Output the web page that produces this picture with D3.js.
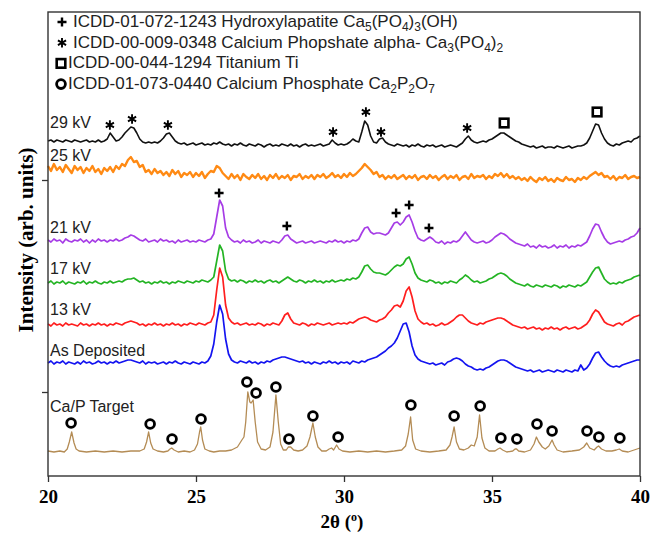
<!DOCTYPE html>
<html>
<head>
<meta charset="utf-8">
<script src="https://cdn.jsdelivr.net/npm/d3@7"></script>
<style>
  body { margin: 0; background: #fff; }
  svg { display: block; }
</style>
</head>
<body>
<svg class="svg" width="650" height="535"></svg>
<script>
// scan grid of the sample patterns: 20..40 deg, 0.1 deg step
const scanStart = 20;
const scanStep = 0.1;

// intensity above each pattern's own base
const kv29 = [
  4, 5, 3, 5, 4, 3, 5, 4, 3, 5,
  4, 3, 4, 5, 3, 4, 3, 5, 3, 4,
  6, 12, 8, 4, 5, 8, 12, 15, 18, 17,
  12, 6, 3, 2, 3, 2, 3, 2, 4, 7,
  11, 12, 8, 4, 2, 1, 2, 0, 1, 2,
  0, 1, 2, 0, 1, 0, 2, 1, 3, 1,
  0, 1, -1, 1, 0, 2, 0, -1, 1, 0,
  -1, 1, 0, -2, 0, 1, -1, 0, -1, 1,
  0, -1, 1, -1, 0, -2, 0, 1, -1, 0,
  -1, 0, 1, -1, 0, 1, 5, 2, 0, 1,
  0, 1, 3, 6, 4, 3, 13, 24, 20, 9,
  3, 2, 6, 7, 3, 1, 0, -1, 1, 0,
  -1, 0, -2, 0, -1, 1, -1, -2, 0, -1,
  0, -2, -1, 0, -2, -1, 0, -1, -2, 0,
  2, 6, 9, 5, 3, 2, 3, 4, 3, 5,
  6, 8, 10, 12, 12, 10, 8, 6, 4, 3,
  1, 0, -1, -2, -1, -3, -2, -1, -3, -2,
  -2, -3, -1, -2, -3, -2, -1, -3, -2, -1,
  -1, 0, 2, 7, 14, 21, 20, 12, 6, 2,
  0, -1, 1, 0, 2, 3, 4, 3, 6, 7,
  9
];
const kv25 = [
  10, 5, 12, 6, 9, 4, 11, 7, 3, 10,
  6, 9, 3, 8, 5, 10, 4, 7, 2, 8,
  5, 9, 4, 10, 7, 12, 10, 16, 19, 14,
  15, 9, 11, 4, 6, 2, 7, 3, 5, 1,
  4, 0, 6, 2, 5, -1, 3, 1, 4, -1,
  3, 0, 4, -2, 2, 5, 4, 10, 8, 3,
  0, -3, 2, -2, 1, -4, 2, -1, -3, 1,
  -2, 2, -3, 0, -4, 1, -2, 2, -3, 0,
  -2, 1, -4, 0, -1, 2, -3, 0, -2, 1,
  -3, 1, -1, 2, -2, 0, 3, -1, 1, -2,
  2, -1, 3, 0, 2, 5, 8, 12, 9, 6,
  2, 4, -1, 1, -3, 0, -2, 1, -3, -1,
  1, -3, 0, -2, 1, -4, -1, 0, -3, 1,
  -2, 0, -4, -1, 1, -3, 0, -2, 1, -4,
  -1, 0, -3, 2, -2, 0, -1, 1, -3, 0,
  -2, 2, 0, 3, -1, 2, -2, 0, -3, -1,
  -4, -2, -5, -1, -4, -6, -2, -4, -1, -5,
  -3, -6, -2, -4, -5, -1, -4, -3, -6, -2,
  -4, -1, -3, 0, 2, 4, 1, 3, -1, 0,
  -3, 0, -4, -1, -2, 1, -3, -1, 0, -2,
  -1
];
const kv21 = [
  2, 0, 3, 1, 2, -1, 3, 1, 0, 2,
  1, 3, 0, 2, -1, 2, 0, 3, 1, 2,
  0, 2, 1, 3, 1, 2, 4, 5, 7, 6,
  4, 2, 1, 3, 0, 1, 2, 0, 3, 1,
  2, 0, 1, -1, 2, 0, 1, 2, 0, 1,
  0, 2, 1, 0, 2, 3, 8, 25, 42, 36,
  14, 5, 2, 0, 1, -1, 2, 0, 1, -1,
  0, 2, -1, 1, 0, -1, 1, 0, -1, 2,
  6, 7, 3, 1, -1, 0, 1, -1, 0, 1,
  -1, 0, 1, 0, -1, 1, 0, 2, 0, 1,
  -1, 1, 0, 2, 1, 3, 9, 14, 15, 10,
  8, 9, 9, 8, 7, 9, 14, 19, 20, 17,
  20, 25, 27, 20, 11, 4, 2, 1, 3, 5,
  3, 0, -1, 1, -2, 0, -1, 1, 0, 2,
  6, 10, 6, 2, 0, -1, 0, 1, -1, 0,
  2, 5, 7, 9, 8, 6, 3, 1, -1, -2,
  -3, -4, -2, -5, -4, -6, -3, -5, -4, -6,
  -5, -3, -6, -4, -5, -3, -6, -4, -5, -3,
  -4, -2, 0, 6, 13, 18, 17, 10, 4, 0,
  -2, -1, 0, 1, 0, 2, 3, 5, 6, 9,
  14
];
const kv17 = [
  0, 2, -1, 1, 0, 2, -1, 1, 0, -1,
  1, 0, 2, -1, 1, 0, 2, 0, -1, 1,
  0, 2, 0, 1, 2, 1, 3, 4, 4, 5,
  3, 1, 2, 0, 1, -1, 1, 0, 2, 0,
  1, -1, 1, 0, 2, 1, 0, 2, 1, 0,
  2, 1, 3, 2, 1, 3, 6, 22, 38, 32,
  12, 4, 2, 3, 1, 3, 2, 0, 2, 1,
  3, 1, 2, 0, 2, 3, 1, 2, 0, 2,
  4, 6, 4, 2, 1, 3, 2, 0, 2, 1,
  3, 1, 2, 0, 2, 1, 3, 1, 2, 3,
  2, 4, 3, 5, 4, 6, 11, 17, 18, 14,
  11, 10, 10, 9, 8, 10, 13, 16, 18, 17,
  19, 24, 26, 19, 10, 5, 3, 2, 1, 3,
  2, 0, 1, -1, 1, 0, 2, 1, 0, 3,
  5, 8, 6, 3, 1, 2, 0, 1, 2, 4,
  5, 7, 9, 10, 9, 7, 4, 2, 0, -1,
  -2, -3, -1, -3, -4, -2, -3, -4, -2, -3,
  -4, -2, -3, -5, -3, -4, -2, -3, -4, -2,
  -3, -1, 1, 6, 11, 15, 16, 10, 4, 1,
  -1, 0, -1, 1, 0, 2, 3, 4, 6, 7,
  8
];
const kv13 = [
  1, -1, 2, 0, 1, -1, 2, 0, 1, 0,
  -1, 2, 0, 1, -1, 1, 0, 2, 0, 1,
  -1, 1, 0, 2, 1, 0, 2, 3, 4, 3,
  2, 0, 1, -1, 1, 0, 2, 0, 1, -1,
  1, 0, 2, 0, 1, -1, 1, 0, 2, 1,
  0, 2, 1, 0, 2, 3, 10, 35, 57, 48,
  20, 7, 3, 1, 2, 0, 1, 2, 0, 1,
  0, 2, 1, -1, 1, 0, 2, 1, 0, 4,
  10, 12, 6, 2, 1, 0, 2, 1, -1, 1,
  0, 2, 1, 0, 1, 2, 0, 1, 2, 1,
  2, 1, 3, 2, 4, 6, 7, 8, 7, 5,
  4, 3, 5, 6, 8, 12, 15, 19, 20, 18,
  24, 34, 38, 28, 14, 6, 3, 1, 2, 0,
  1, -1, 0, 2, 0, 1, 3, 5, 8, 10,
  10, 7, 4, 2, 1, 0, 2, 1, 3, 4,
  5, 6, 7, 7, 6, 4, 2, 0, -1, -2,
  -3, -2, -4, -3, -2, -4, -3, -5, -3, -4,
  -2, -4, -3, -5, -3, -2, -4, -3, -2, -4,
  -3, -1, 1, 5, 11, 15, 13, 8, 3, 1,
  0, -1, 1, 2, 0, 3, 4, 6, 8, 9,
  10
];
const asDeposited = [
  1, 3, 0, 2, 1, 3, 0, 2, 1, 0,
  2, 0, 3, 1, 2, 0, 1, 3, 1, 2,
  0, 2, 1, 3, 1, 2, 3, 4, 4, 3,
  2, 1, 3, 0, 2, 1, 2, 0, 1, 2,
  0, 2, 1, 3, 1, 0, 2, 1, 0, 2,
  1, 0, 2, 1, 3, 8, 20, 42, 59, 50,
  25, 10, 4, 2, 1, 3, 2, 1, 3, 1,
  2, 0, 2, 1, 3, 2, 4, 5, 6, 7,
  7, 6, 5, 4, 3, 2, 3, 1, 2, 0,
  2, 1, 0, 2, 1, 3, 1, 2, 0, 2,
  1, 2, 0, 3, 2, 1, 3, 2, 4, 5,
  6, 7, 9, 11, 13, 16, 18, 21, 26, 33,
  40, 41, 32, 18, 9, 5, 3, 2, 1, 0,
  1, -1, 0, 1, -1, 2, 3, 5, 6, 5,
  3, 0, -2, -3, -5, -6, -5, -6, -4, -3,
  -1, 1, 3, 4, 4, 3, 1, -1, -3, -4,
  -5, -6, -7, -6, -8, -7, -6, -8, -7, -6,
  -7, -8, -6, -7, -8, -6, -7, -8, -6, -7,
  -1, -6, -4, 0, 6, 11, 12, 7, 3, 0,
  -2, -3, -2, -3, -1, 0, 1, 2, 3, 4,
  4
];

// Ca/P target pattern: [2theta, intensity]
const target = [
  [20.0, 1], [20.2, 0], [20.4, 1], [20.55, 0], [20.65, 3], [20.72, 10], [20.8, 20], [20.88, 9],
  [20.95, 3], [21.05, 1], [21.3, 0], [21.6, 1], [21.9, 0], [22.2, 1], [22.5, 0], [22.8, 1],
  [23.1, 1], [23.25, 3], [23.33, 10], [23.4, 20], [23.47, 9], [23.55, 3], [23.7, 1], [23.9, 0],
  [24.05, 1], [24.12, 3], [24.18, 4], [24.26, 2], [24.4, 0], [24.6, 1], [24.8, 0], [24.95, 2],
  [25.05, 8], [25.12, 20], [25.16, 25], [25.22, 12], [25.3, 3], [25.45, 1], [25.6, 0], [25.8, 1],
  [26.0, 1], [26.2, 2], [26.4, 5], [26.55, 12], [26.62, 15], [26.68, 30], [26.75, 60], [26.82, 50],
  [26.86, 49], [26.93, 52], [27.0, 30], [27.08, 10], [27.2, 3], [27.35, 2], [27.5, 5], [27.6, 20],
  [27.7, 57], [27.78, 30], [27.86, 8], [27.95, 2], [28.05, 2], [28.12, 5], [28.2, 5], [28.3, 2],
  [28.45, 1], [28.6, 2], [28.75, 6], [28.85, 15], [28.95, 29], [29.03, 15], [29.12, 5], [29.25, 1],
  [29.4, 1], [29.5, 3], [29.58, 4], [29.65, 2], [29.75, 7], [29.83, 3], [29.95, 1], [30.2, 0],
  [30.5, 1], [30.8, 0], [31.1, 1], [31.4, 0], [31.7, 1], [31.95, 2], [32.08, 6], [32.17, 18],
  [32.25, 35], [32.32, 12], [32.42, 3], [32.6, 1], [32.9, 0], [33.2, 1], [33.45, 2], [33.58, 7],
  [33.65, 15], [33.72, 25], [33.8, 10], [33.9, 3], [34.05, 2], [34.2, 4], [34.3, 7], [34.4, 6],
  [34.5, 15], [34.58, 37], [34.66, 14], [34.76, 4], [34.9, 1], [35.1, 1], [35.2, 3], [35.27, 4],
  [35.36, 2], [35.5, 0], [35.7, 1], [35.78, 3], [35.83, 3], [35.9, 1], [36.1, 0], [36.3, 2],
  [36.42, 8], [36.5, 15], [36.58, 10], [36.7, 5], [36.8, 3], [36.92, 6], [37.03, 12], [37.1, 7],
  [37.2, 2], [37.4, 0], [37.7, 1], [37.95, 2], [38.1, 5], [38.2, 9], [38.3, 4], [38.45, 2],
  [38.55, 5], [38.6, 6], [38.7, 3], [38.85, 1], [39.05, 1], [39.2, 2], [39.3, 3], [39.4, 1],
  [39.6, 0], [39.8, 2], [40.0, 4]
];

const traceNames = ['29 kV', '25 kV', '21 kV', '17 kV', '13 kV', 'As Deposited', 'Ca/P Target'];
// stacking offset of each pattern, and level of its name
const traceOffsets = [331, 300, 234, 193, 151, 112, 24];
const labelLevels = [348, 315, 243, 202, 161, 120, 64];
const traceColors = ['#111111', '#ff8a14', '#a63ce6', '#24b424', '#ff1e1e', '#1414f0', '#b48c55'];
const traceWidths = [1.6, 2.4, 1.7, 1.7, 1.7, 1.7, 1.3];

// phase markers: [2theta, level]
const hapMarks = [[25.78, 283], [28.07, 250], [31.76, 263], [32.2, 271], [32.87, 248]];
const tcpMarks = [[22.09, 351], [22.84, 357], [24.05, 351], [29.63, 344], [30.74, 364], [31.25, 344], [34.16, 348]];
const tiMarks = [[35.41, 353], [38.55, 364]];
const pyroMarks = [
  [20.78, 53], [23.45, 52], [24.19, 37], [25.17, 57], [26.72, 94], [27.03, 83], [27.7, 89],
  [28.14, 37], [28.95, 60], [29.8, 39], [32.26, 71], [33.72, 60], [34.6, 70], [35.3, 38],
  [35.84, 37], [36.52, 52], [37.03, 45], [38.21, 45], [38.61, 39], [39.32, 38]
];

const legendTexts = [
  'ICDD-01-072-1243 Hydroxylapatite Ca{5}(PO{4}){3}(OH)',
  'ICDD-00-009-0348 Calcium Phopshate alpha- Ca{3}(PO{4}){2}',
  'ICDD-00-044-1294 Titanium Ti',
  'ICDD-01-073-0440 Calcium Phosphate Ca{2}P{2}O{7}'
];
const xTicks = [20, 25, 30, 35, 40];
const yTicks = [84, 296];

const svg = d3.select('.svg');
const x = d3.scaleLinear().domain([20, 40]).range([48, 640]);
const y = d3.scaleLinear().domain([0, 464]).range([476, 12]);

function scanPoints(vals, offset) {
  return vals.map((v, i) => [scanStart + i * scanStep, offset + v]);
}

const samples = [kv29, kv25, kv21, kv17, kv13, asDeposited];
const traces = samples.map((s, i) => scanPoints(s, traceOffsets[i]));
traces.push(target.map(d => [d[0], d[1] + traceOffsets[6]]));

const line = d3.line().x(d => x(d[0])).y(d => y(d[1]));

traces.forEach((t, i) => {
  svg.append('path')
    .datum(t)
    .attr('d', line)
    .attr('fill', 'none')
    .attr('stroke', traceColors[i])
    .attr('stroke-width', traceWidths[i])
    .attr('stroke-linejoin', 'round');
});

// axes
const xAxis = svg.append('g')
  .attr('transform', 'translate(0,476)')
  .call(d3.axisBottom(x).tickValues(xTicks).tickSize(6).tickPadding(8));
xAxis.select('.domain').remove();
xAxis.selectAll('line').attr('stroke', '#333').attr('stroke-width', 1.3);
xAxis.selectAll('text')
  .attr('fill', '#000')
  .style('font-family', '"Liberation Serif", "Times New Roman", serif')
  .style('font-weight', 'bold')
  .style('font-size', '19px');

const yAxis = svg.append('g')
  .attr('transform', 'translate(48,0)')
  .call(d3.axisLeft(y).tickValues(yTicks).tickSize(6).tickFormat(''));
yAxis.select('.domain').remove();
yAxis.selectAll('line').attr('stroke', '#333').attr('stroke-width', 1.3);

svg.append('rect')
  .attr('x', x(20)).attr('y', y(464))
  .attr('width', x(40) - x(20)).attr('height', y(0) - y(464))
  .attr('fill', 'none').attr('stroke', '#333').attr('stroke-width', 1.4);

// markers
const ink = '#000';
function drawPlus(g, cx, cy) {
  g.append('path').attr('d', `M${cx - 4.5},${cy}H${cx + 4.5}M${cx},${cy - 4.5}V${cy + 4.5}`)
    .attr('stroke', ink).attr('stroke-width', 2.4).attr('fill', 'none');
}
const asterisk = d3.symbol(d3.symbolAsterisk, 62);
function drawStar(g, cx, cy) {
  g.append('path').attr('d', asterisk()).attr('transform', `translate(${cx},${cy})`)
    .attr('stroke', ink).attr('stroke-width', 1.9).attr('fill', 'none');
}
function drawSquare(g, cx, cy) {
  g.append('rect').attr('x', cx - 4.3).attr('y', cy - 4.3).attr('width', 8.6).attr('height', 8.6)
    .attr('stroke', ink).attr('stroke-width', 2.6).attr('fill', '#fff');
}
function drawRing(g, cx, cy) {
  g.append('circle').attr('cx', cx).attr('cy', cy).attr('r', 4.4)
    .attr('stroke', ink).attr('stroke-width', 2.8).attr('fill', '#fff');
}

const marks = svg.append('g');
hapMarks.forEach(d => drawPlus(marks, x(d[0]), y(d[1])));
tcpMarks.forEach(d => drawStar(marks, x(d[0]), y(d[1])));
tiMarks.forEach(d => drawSquare(marks, x(d[0]), y(d[1])));
pyroMarks.forEach(d => drawRing(marks, x(d[0]), y(d[1])));

// pattern names
svg.selectAll('.tlabel')
  .data(traceNames)
  .enter().append('text')
  .attr('class', 'tlabel')
  .attr('x', 50)
  .attr('y', (d, i) => y(labelLevels[i]))
  .style('font-family', '"Liberation Sans", Arial, sans-serif')
  .style('font-size', '16px')
  .attr('fill', '#222')
  .text(d => d);

// legend
const legend = svg.append('g');
const legendDraw = [drawPlus, drawStar, drawSquare, drawRing];
const legendTextX = [73, 73, 68, 68];
legendTexts.forEach((s, i) => {
  const base = 27 + i * 20.7;
  legendDraw[i](legend, i < 2 ? 62 : 61, base - 5);
  const t = legend.append('text')
    .attr('x', legendTextX[i]).attr('y', base)
    .attr('fill', '#222')
    .style('font-family', '"Liberation Sans", Arial, sans-serif')
    .style('font-size', '17px');
  let shifted = false;
  s.split(/(\{[^}]*\})/).filter(p => p.length).forEach(p => {
    const sub = p[0] === '{';
    const ts = t.append('tspan').text(sub ? p.slice(1, -1) : p);
    if (sub) {
      ts.style('font-size', '12px').attr('dy', shifted ? 0 : 4);
      shifted = true;
    } else if (shifted) {
      ts.attr('dy', -4);
      shifted = false;
    }
  });
});

// axis titles
svg.append('text')
  .attr('transform', 'translate(33,240) rotate(-90)')
  .attr('text-anchor', 'middle')
  .style('font-family', '"Liberation Serif", "Times New Roman", serif')
  .style('font-weight', 'bold')
  .style('font-size', '21px')
  .text('Intensity (arb. units)');

const xt = svg.append('text')
  .attr('x', 342).attr('y', 528)
  .attr('text-anchor', 'middle')
  .style('font-family', '"Liberation Serif", "Times New Roman", serif')
  .style('font-weight', 'bold')
  .style('font-size', '19px');
xt.append('tspan').text('2θ (');
xt.append('tspan').text('o').style('font-size', '12px').attr('dy', -7);
xt.append('tspan').text(')').attr('dy', 7);
</script>
</body>
</html>
